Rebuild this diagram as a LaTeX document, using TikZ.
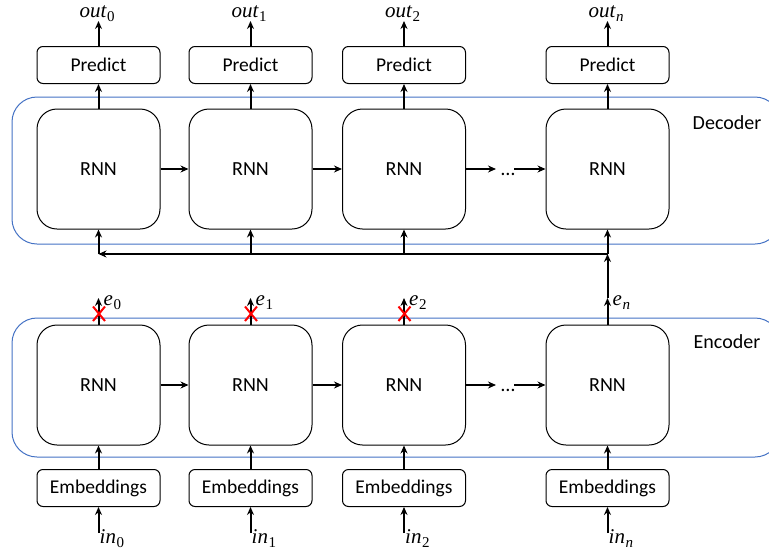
\documentclass[tikz,border=0pt]{standalone}
\usepackage{fontspec}
\setmainfont{Carlito}
\newfontfamily\lblfont{Liberation Serif}
\usetikzlibrary{arrows.meta,calc}
\definecolor{frameblue}{RGB}{68,114,196}
\definecolor{crossred}{RGB}{255,0,0}
% italic symbol with a lowered index
\newcommand{\idx}[2]{{\lblfont\itshape\fontsize{21}{25}\selectfont #1}\hspace{0.5pt}\raisebox{-4.5pt}{\lblfont\fontsize{15}{18}\selectfont #2}}
\begin{document}
\begin{tikzpicture}[x=1pt,y=-1pt,
  cell/.style={draw=black, line width=1pt, rounded corners=20pt,
    minimum width=123pt, minimum height=120pt, inner sep=0pt,
    font=\fontsize{20}{24}\selectfont},
  headbox/.style={draw=black, line width=1pt, rounded corners=6pt,
    minimum width=123pt, minimum height=37pt, inner sep=0pt,
    font=\fontsize{19.5}{23}\selectfont},
  layer/.style={draw=frameblue, line width=1pt, rounded corners=25pt},
  flow/.style={line width=2pt, -{Stealth[length=8pt,width=7pt]}},
  sym/.style={inner sep=0pt, anchor=base west},
  tag/.style={inner sep=0pt, font=\fontsize{20}{24}\selectfont},
  cross/.style={draw=crossred, line width=2pt}
]
\useasboundingbox (0,0) rectangle (769,555);
\clip (0,0) rectangle (769,555);

% decoder and encoder frames
\draw[layer] (12,97) rectangle (780,244);
\draw[layer] (12,318) rectangle (780,457);
\node[tag] (declabel) at (727,123) {Decoder};
\node[tag] (enclabel) at (727,342) {Encoder};

% the four columns
\foreach \i/\x/\s in {0/98.5/0,1/250.5/1,2/404/2,n/607.5/\itshape n}{
  \node[headbox] (pred\i) at (\x,65) {Predict};
  \node[cell] (dec\i) at (\x,169) {RNN};
  \node[cell] (enc\i) at (\x,385) {RNN};
  \node[headbox] (emb\i) at (\x,488) {Embeddings};
  \node[sym] (out\i) at (\x-19,17) {\idx{out}{\s}};
  \coordinate (outtip\i) at (\x,21);
  \node[sym] (in\i) at (\x+1,543) {\idx{in}{\s}};
  \coordinate (inbase\i) at (\x,533);
  \node[sym] (e\i) at (\x+5,305) {\idx{e}{\s}};
  \coordinate (etip\i) at (\x,298);
  \coordinate (join\i) at (\x,254);
  \draw[flow] (dec\i.north) -- (pred\i.south);
  \draw[flow] (pred\i.north) -- (outtip\i);
  \draw[flow] (emb\i.north) -- (enc\i.south);
  \draw[flow] (inbase\i) -- (emb\i.south);
  \draw[flow] (enc\i.north) -- (etip\i);
}

% recurrent links
\draw[flow] (dec0.east) -- (dec1.west);
\draw[flow] (dec1.east) -- (dec2.west);
\coordinate (dgapa) at (496,169);
\coordinate (dgapb) at (514,169);
\node[tag] (ddots) at (508,174) {\ldots};
\draw[flow] (dec2.east) -- (dgapa);
\draw[flow] (dgapb) -- (decn.west);

\draw[flow] (enc0.east) -- (enc1.west);
\draw[flow] (enc1.east) -- (enc2.west);
\coordinate (egapa) at (496,385);
\coordinate (egapb) at (514,385);
\node[tag] (edots) at (508,390) {\ldots};
\draw[flow] (enc2.east) -- (egapa);
\draw[flow] (egapb) -- (encn.west);

% last encoder state feeds every decoder step
\draw[flow] (etipn) -- (joinn);
\draw[flow] (joinn) -- (decn.south);
\draw[flow] (joinn) -- (join0);
\draw[flow] (join0) -- (dec0.south);
\draw[flow] (join1) -- (dec1.south);
\draw[flow] (join2) -- (dec2.south);

% dropped encoder outputs
\foreach \i/\x in {0/99,1/251,2/404.5}{
  \draw[cross] (\x-6,306.5) -- (\x+6,321);
  \draw[cross] (\x+6,306.5) -- (\x-6,321);
}
\end{tikzpicture}
\end{document}
